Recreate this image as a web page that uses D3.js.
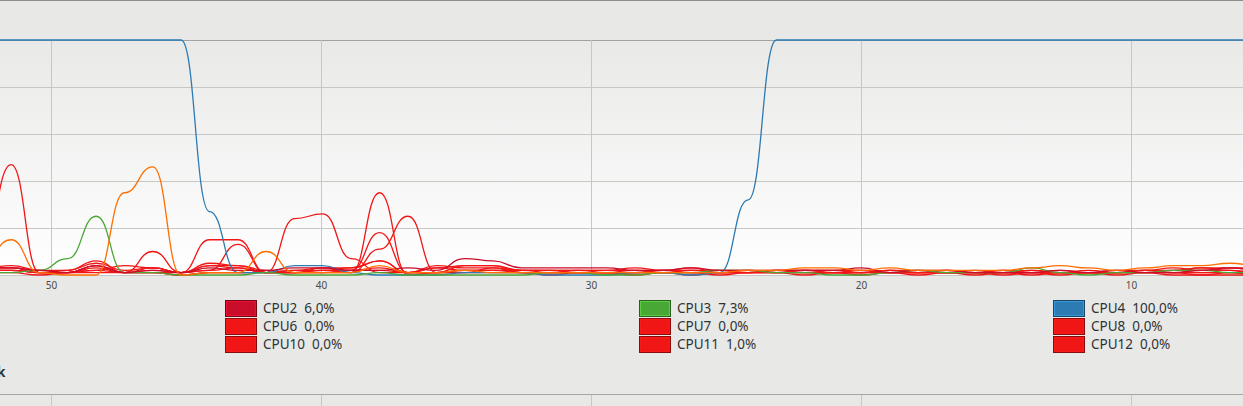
<!DOCTYPE html>
<html>
<head>
<meta charset="utf-8">
<script src="https://cdn.jsdelivr.net/npm/d3@7/dist/d3.min.js"></script>
<style>
  html, body { margin: 0; padding: 0; background: #e8e8e7; overflow: hidden; }
  svg { display: block; font-family: "Noto Sans", "DejaVu Sans", sans-serif; }
</style>
</head>
<body>
<svg id="chart" width="1243" height="406"></svg>
<script>
// seconds ago of each sample (visible part of the 60 s history)
const secondsAgo = [52.53, 51.48, 50.43, 49.38, 48.33, 47.28, 46.23, 45.18, 44.13, 43.08,
  42.03, 40.98, 39.93, 38.88, 37.83, 36.78, 35.73, 34.68, 33.63, 32.58,
  31.53, 30.48, 29.43, 28.38, 27.33, 26.28, 25.23, 24.18, 23.13, 22.08,
  21.03, 19.98, 18.93, 17.88, 16.83, 15.78, 14.73, 13.68, 12.63, 11.58,
  10.53, 9.48, 8.43, 7.38, 6.33, 5.28];

const cpuNames = ["CPU1", "CPU2", "CPU3", "CPU4", "CPU5", "CPU6", "CPU7", "CPU8", "CPU9", "CPU10", "CPU11", "CPU12"];
const cpuNow = ["2,0%", "6,0%", "7,3%", "100,0%", "1,0%", "0,0%", "0,0%", "0,0%", "0,0%", "0,0%", "1,0%", "0,0%"];
const cpuColors = ["#ff6e00", "#c90d2a", "#49a835", "#2d7bb3", "#f11616", "#f11616",
  "#f11616", "#f11616", "#f11616", "#f11616", "#f11616", "#f11616"];

const cpu1 = [6, 15, 1, 0, 0, 35, 46, 0, 1, 1, 10, 1, 1, 1, 4, 1, 1, 2, 1, 1,
  1, 1, 1, 1, 1, 1, 1, 2, 2, 3, 3, 2, 3, 2, 2, 2, 2, 3, 4, 3, 2, 3, 4, 4, 5, 4];
const cpu2 = [3, 3, 2, 1, 4, 1, 2, 1, 3, 2, 2, 3, 3, 2, 2, 3, 2, 7, 6, 3,
  3, 3, 3, 2, 2, 3, 2, 2, 2, 2, 2, 3, 1, 2, 2, 1, 1, 1, 2, 1, 2, 1, 1, 2, 3, 2];
const cpu3 = [1, 1, 2, 7, 25, 1, 1, 0, 0, 0, 1, 0, 0, 0, 1, 0, 0, 0, 0, 0,
  1, 1, 0, 0, 1, 1, 2, 2, 1, 1, 0, 0, 1, 2, 1, 1, 1, 3, 1, 0, 1, 1, 2, 2, 1, 1];
const cpu4 = [100, 100, 100, 100, 100, 100, 100, 100, 27, 1, 1, 4, 4, 1, 0, 0, 0, 1, 1, 1,
  0, 0, 0, 1, 1, 0, 1, 32, 100, 100, 100, 100, 100, 100, 100, 100, 100, 100, 100, 100,
  100, 100, 100, 100, 100, 100];
const cpu5 = [2, 2, 1, 1, 4, 1, 3, 1, 5, 4, 1, 24, 26, 7, 1, 1, 1, 2, 2, 2,
  1, 2, 1, 1, 2, 1, 1, 1, 1, 2, 1, 1, 2, 1, 1, 1, 2, 1, 1, 2, 1, 1, 2, 3, 2, 1];
const cpu6 = [12, 47, 1, 1, 2, 1, 1, 0, 1, 1, 1, 1, 2, 1, 35, 0, 1, 1, 3, 1,
  1, 1, 1, 0, 1, 1, 0, 1, 1, 1, 1, 0, 1, 1, 1, 0, 1, 1, 0, 1, 1, 1, 0, 0, 0, 0];
const cpu7 = [3, 3, 1, 2, 5, 2, 3, 1, 15, 15, 1, 2, 3, 3, 6, 1, 4, 3, 3, 2,
  2, 2, 2, 3, 2, 2, 2, 2, 1, 2, 2, 1, 2, 2, 1, 2, 1, 1, 2, 1, 1, 2, 1, 1, 1, 0];
const cpu8 = [2, 2, 1, 1, 2, 4, 3, 1, 2, 13, 1, 1, 2, 2, 3, 1, 1, 4, 4, 1,
  1, 1, 1, 2, 2, 3, 1, 1, 2, 1, 1, 1, 1, 1, 2, 1, 2, 1, 1, 1, 0, 1, 1, 2, 2, 0];
const cpu9 = [3, 3, 2, 1, 4, 1, 1, 1, 4, 4, 2, 1, 1, 2, 18, 1, 3, 2, 2, 2,
  2, 1, 1, 1, 2, 2, 1, 1, 2, 2, 1, 1, 2, 1, 1, 1, 1, 2, 1, 1, 1, 2, 1, 1, 1, 1];
const cpu10 = [1, 1, 0, 1, 1, 1, 1, 0, 1, 1, 1, 1, 1, 1, 11, 25, 1, 1, 1, 1,
  0, 1, 1, 1, 1, 0, 1, 1, 1, 0, 1, 1, 1, 0, 1, 1, 1, 0, 1, 1, 1, 1, 1, 0, 1, 0];
const cpu11 = [2, 2, 1, 1, 3, 1, 10, 1, 2, 3, 1, 2, 2, 3, 6, 1, 1, 2, 2, 1,
  1, 1, 1, 1, 1, 1, 1, 2, 1, 1, 1, 2, 1, 1, 1, 1, 0, 1, 1, 1, 1, 2, 2, 3, 3, 2];
const cpu12 = [3, 4, 2, 2, 6, 1, 2, 1, 4, 3, 1, 1, 3, 2, 2, 1, 3, 4, 4, 2,
  2, 2, 2, 2, 1, 2, 2, 1, 2, 2, 2, 2, 1, 1, 2, 1, 1, 2, 1, 1, 2, 2, 3, 2, 3, 3];

const cpuSeries = [cpu1, cpu2, cpu3, cpu4, cpu5, cpu6, cpu7, cpu8, cpu9, cpu10, cpu11, cpu12];
const timeTicks = [50, 40, 30, 20, 10];
const percentTicks = [0, 20, 40, 60, 80, 100];
const heading = "Minnes- och växlingshistorik";

const svg = d3.select("#chart");

// time runs right to left: 60 s ago .. now
const x = d3.scaleLinear().domain([60, 0]).range([-219, 1401]);
const y = d3.scaleLinear().domain([0, 100]).range([275, 40]);

// plot background gradient
const grad = svg.append("defs").append("linearGradient")
  .attr("id", "bg").attr("x1", 0).attr("y1", 0).attr("x2", 0).attr("y2", 1);
grad.append("stop").attr("offset", "0%").attr("stop-color", "#e9e9e8");
grad.append("stop").attr("offset", "100%").attr("stop-color", "#ffffff");

svg.append("line")
  .attr("x1", 0).attr("x2", 1243).attr("y1", 0.5).attr("y2", 0.5)
  .attr("stroke", "#8e8f8b");

svg.append("rect")
  .attr("x", 0).attr("y", y(100))
  .attr("width", 1243).attr("height", y(0) - y(100))
  .attr("fill", "url(#bg)");

// grid
svg.append("g")
  .selectAll("line")
  .data(percentTicks)
  .enter()
  .append("line")
  .attr("x1", 0).attr("x2", 1243)
  .attr("y1", d => Math.round(y(d)) + 0.5)
  .attr("y2", d => Math.round(y(d)) + 0.5)
  .attr("stroke", d => d === 100 ? "#a2a2a0" : "#c7c7c6");

svg.append("g")
  .selectAll("line")
  .data(timeTicks)
  .enter()
  .append("line")
  .attr("x1", d => x(d) + 0.5).attr("x2", d => x(d) + 0.5)
  .attr("y1", y(100)).attr("y2", y(0))
  .attr("stroke", "#c7c7c6");

svg.append("g")
  .selectAll("text")
  .data(timeTicks)
  .enter()
  .append("text")
  .attr("x", d => x(d) + 0.5)
  .attr("y", 288.5)
  .attr("text-anchor", "middle")
  .style("font-size", "10px")
  .attr("fill", "#4a4c48")
  .text(d => d);

// cpu lines
const line = d3.line()
  .x((d, i) => x(secondsAgo[i]))
  .y(d => y(d))
  .curve(d3.curveBumpX);

const order = d3.range(cpuSeries.length).reverse();
svg.append("g")
  .selectAll("path")
  .data(order)
  .enter()
  .append("path")
  .attr("d", i => line(cpuSeries[i]))
  .attr("fill", "none")
  .attr("stroke", i => cpuColors[i])
  .attr("stroke-width", 1.3)
  .attr("stroke-linejoin", "round");

// legend: 4 columns, the first one lies left of the visible area
const legend = svg.append("g");
cpuNames.forEach((name, i) => {
  const col = i % 4, row = Math.floor(i / 4);
  const lx = -189 + col * 414;
  if (lx < 0) return;
  const ly = 300 + row * 18;
  const c = d3.color(cpuColors[i]);
  legend.append("rect")
    .attr("x", lx + 0.5).attr("y", ly + 0.5)
    .attr("width", 31).attr("height", 16)
    .attr("fill", cpuColors[i])
    .attr("stroke", c.darker(1.6));
  legend.append("rect")
    .attr("x", lx + 1.5).attr("y", ly + 1.5)
    .attr("width", 29).attr("height", 14)
    .attr("fill", "none")
    .attr("stroke", c.brighter(0.9))
    .attr("stroke-opacity", 0.6);
  const label = legend.append("text")
    .attr("x", lx + 38).attr("y", ly + 13.3)
    .style("font-size", "13.5px")
    .attr("fill", "#2e3436")
    .text(name);
  const w = label.node().getComputedTextLength();
  legend.append("text")
    .attr("x", lx + 38 + w + 7).attr("y", ly + 13.3)
    .style("font-size", "13.5px")
    .attr("fill", "#2e3436")
    .text(cpuNow[i]);
});

// next section heading (cut off at the left)
svg.append("text")
  .attr("x", 5.5).attr("y", 377)
  .attr("text-anchor", "end")
  .style("font-size", "14px")
  .style("font-weight", "bold")
  .attr("fill", "#2e3436")
  .text(heading);

svg.append("line")
  .attr("x1", 0).attr("x2", 1243).attr("y1", 394.5).attr("y2", 394.5)
  .attr("stroke", "#a5a5a3");

svg.append("g")
  .selectAll("line")
  .data(timeTicks)
  .enter()
  .append("line")
  .attr("x1", d => x(d) + 0.5).attr("x2", d => x(d) + 0.5)
  .attr("y1", 395).attr("y2", 406)
  .attr("stroke", "#c7c7c6");
</script>
</body>
</html>
